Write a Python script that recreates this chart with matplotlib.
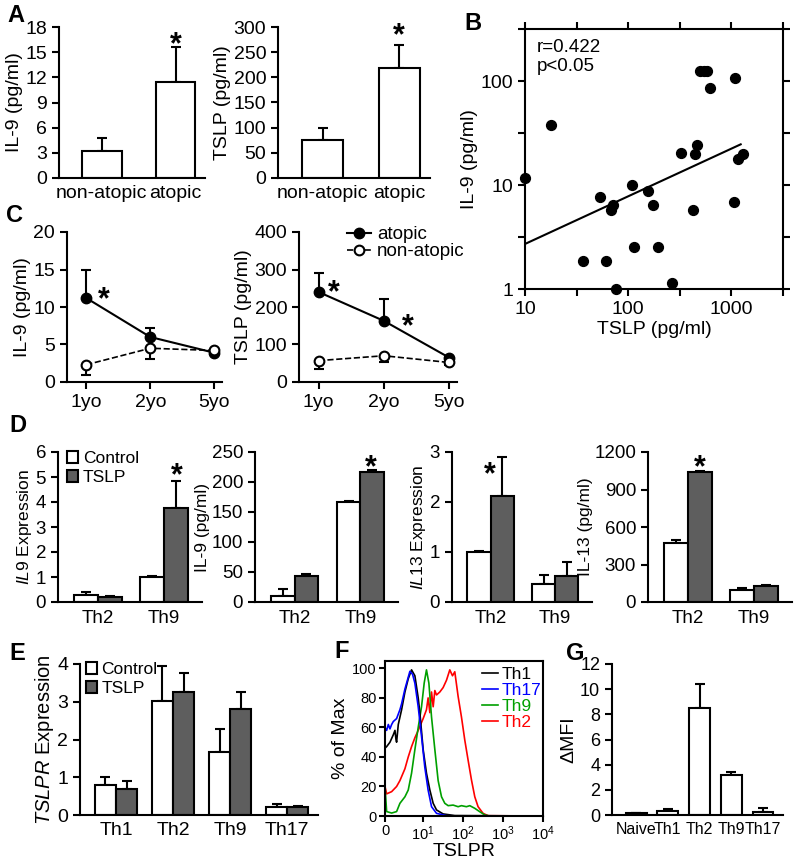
"""Figure: IL-9 / TSLP panels A-G recreated."""
import numpy as np
import matplotlib; matplotlib.use("Agg")
import matplotlib.pyplot as plt
import matplotlib.transforms as mtrans
from matplotlib.lines import Line2D
from matplotlib.patches import Patch

plt.rcParams["font.family"] = ["Liberation Sans", "DejaVu Sans"]
plt.rcParams["mathtext.fontset"] = "custom"
plt.rcParams["mathtext.rm"] = "Liberation Sans"
plt.rcParams["mathtext.it"] = "Liberation Sans:italic"
plt.rcParams["axes.linewidth"] = 1.5
plt.rcParams["xtick.major.width"] = 1.5
plt.rcParams["ytick.major.width"] = 1.5
plt.rcParams["xtick.major.size"] = 5
plt.rcParams["ytick.major.size"] = 5

# ---- data ----
# A
a_groups = ["non-atopic", "atopic"]
a_il9 = [3.2, 11.5]; a_il9_err = [1.6, 4.1]
a_tslp = [75, 218]; a_tslp_err = [25, 47]
# B
b_tslp = [10, 17.9, 36.4, 52.8, 61.2, 67.9, 71, 77, 109, 114, 154, 174, 194, 267,
          328, 429, 448, 465, 500, 540, 580, 627, 1062, 1085, 1169, 1297]
b_il9 = [11.7, 38, 1.85, 7.6, 1.85, 5.7, 6.4, 1.0, 10, 2.53, 8.8, 6.4, 2.53, 1.15,
         20.5, 5.7, 19.7, 24, 125, 125, 125, 86, 6.9, 108, 17.8, 19.7]
b_fit_x = [10, 1230]; b_fit_y = [2.71, 24.6]
# C
ages = ["1yo", "2yo", "5yo"]
c_il9_atopic = [11.2, 6.0, 3.9]; c_il9_atopic_err = [3.8, 1.2, 0.2]
c_il9_non = [2.3, 4.5, 4.2]; c_il9_non_err = [1.4, 1.4, 0.2]
c_tslp_atopic = [240, 163, 65]; c_tslp_atopic_err = [50, 59, 5]
c_tslp_non = [57, 70, 52]; c_tslp_non_err = [22, 18, 8]
# D
d_groups = ["Th2", "Th9"]
d_il9e_ctrl = [0.3, 1.0]; d_il9e_ctrl_err = [0.12, 0.04]
d_il9e_tslp = [0.2, 3.75]; d_il9e_tslp_err = [0.05, 1.1]
d_il9_ctrl = [10, 166]; d_il9_ctrl_err = [12, 2]
d_il9_tslp = [44, 217]; d_il9_tslp_err = [3, 3]
d_il13e_ctrl = [1.0, 0.36]; d_il13e_ctrl_err = [0.02, 0.19]
d_il13e_tslp = [2.12, 0.52]; d_il13e_tslp_err = [0.78, 0.28]
d_il13_ctrl = [470, 100]; d_il13_ctrl_err = [30, 15]
d_il13_tslp = [1040, 125]; d_il13_tslp_err = [10, 10]
# E
e_groups = ["Th1", "Th2", "Th9", "Th17"]
e_ctrl = [0.8, 3.02, 1.67, 0.2]; e_ctrl_err = [0.2, 0.93, 0.61, 0.08]
e_tslp = [0.7, 3.27, 2.82, 0.21]; e_tslp_err = [0.2, 0.48, 0.43, 0.02]
# F (histograms, % of max vs TSLPR)
f_th1_x = [0, 0.43, 1.30, 2.17, 2.61, 2.87, 3.04, 3.48, 4.35, 5.22, 6.09, 6.96, 7.83,
           8.70, 9.13, 10.0, 12.1, 14.7, 17.8, 21.6, 31.6, 61.9, 10000]
f_th1_y = [46, 47, 50, 55, 58, 52, 50, 62, 72, 84, 93, 99, 95, 80, 70, 45, 29, 17.6,
           8.6, 4.1, 1.4, 0.3, 0]
f_th17_x = [0, 0, 0.43, 0.87, 1.30, 1.74, 2.17, 3.04, 3.91, 4.35, 5.22, 6.09, 6.52, 7.22,
            7.83, 8.70, 9.57, 11.0, 13.3, 16.2, 21.6, 38.4, 100, 10000]
f_th17_y = [100, 60, 58, 62, 59, 62, 64, 66, 72, 76, 86, 94, 98, 96, 90, 74, 54, 33,
            17.6, 6.3, 1.8, 0.2, 0, 0]
f_th9_x = [0, 0.43, 1.74, 3.04, 3.91, 5.22, 6.09, 6.96, 7.83, 8.70, 9.57, 10.6, 12.1,
           13.9, 16.2, 19.6, 23.7, 28.8, 34.8, 42.2, 56.2, 75.0, 91.0, 121, 147, 196,
           261, 348, 464, 10000]
f_th9_y = [20, 3, 2, 3, 8.6, 13, 17.6, 29, 45, 60, 74, 90, 99, 90, 67, 45, 24, 13, 8.6,
           7, 7.4, 6.3, 7, 6.3, 7, 5.2, 2.9, 0.7, 0, 0]
f_th2_x = [0, 0.43, 1.74, 3.04, 3.91, 5.22, 6.09, 6.96, 7.83, 8.70, 10.0, 12.1, 13.3,
           14.7, 16.2, 17.8, 19.6, 21.6, 26.1, 31.6, 38.4, 46.4, 54.2, 61.9, 75.0, 91.0,
           110, 133, 162, 196, 237, 316, 422, 10000]
f_th2_y = [20, 15, 16.5, 20, 24, 32, 40, 47, 53, 58, 66, 72, 80, 70, 84, 74, 85, 82, 84,
           87, 92, 99, 95, 97.7, 81, 67, 51.5, 38, 24.4, 13, 6.3, 1.8, 0.2, 0]
# G
g_groups = ["Naive", "Th1", "Th2", "Th9", "Th17"]
g_mfi = [0.15, 0.35, 8.5, 3.15, 0.25]; g_mfi_err = [0.0, 0.1, 1.9, 0.3, 0.3]

GREY = "#5e5e5e"
W, H = 800, 860
fig = plt.figure(figsize=(W / 100, H / 100), dpi=100)


def add_ax(l, t, r, b):
    return fig.add_axes([l / W, 1 - b / H, (r - l) / W, (b - t) / H])


def fxy(x, y):
    return (x / W, 1 - y / H)


def clean(ax, fs=14):
    for s in ("top", "right"):
        ax.spines[s].set_visible(False)
    ax.tick_params(labelsize=fs, direction="out")


def bars(ax, x, vals, errs, width, color="white"):
    ax.errorbar(x, vals, yerr=[np.zeros(len(errs)), errs], fmt="none", ecolor="k",
                elinewidth=1.5, capsize=3.5, capthick=1.5, zorder=1)
    ax.bar(x, vals, width, color=color, edgecolor="k", linewidth=1.5, zorder=2)


def star(ax, x, y, fs=22):
    # (x, y) is where the glyph should appear; the '*' glyph sits high in its box
    tr = mtrans.offset_copy(ax.transData, fig=fig, x=0, y=-8, units="dots")
    ax.text(x, y, "*", ha="center", va="center", fontsize=fs, fontweight="bold",
            transform=tr, clip_on=False)


def letter(x, y, s):
    fig.text(*fxy(x, y), s, fontsize=17, fontweight="bold", ha="left", va="center")


def box_legend(ax, x, y, fs=12.5):
    ax.legend(handles=[Patch(fc="white", ec="k", lw=1.5), Patch(fc=GREY, ec="k", lw=1.5)],
              labels=["Control", "TSLP"], loc="upper left", frameon=False, fontsize=fs,
              bbox_to_anchor=fxy(x, y), bbox_transform=fig.transFigure, borderpad=0,
              borderaxespad=0, handlelength=0.65, handleheight=0.65, handletextpad=0.25,
              labelspacing=0.25)


# ---- A ----
for (l, r), vals, errs, ylab, ymax, step, sy in [
        ((59, 205), a_il9, a_il9_err, "IL-9 (pg/ml)", 18, 3, 16.8),
        ((278, 430), a_tslp, a_tslp_err, "TSLP (pg/ml)", 300, 50, 298)]:
    ax = add_ax(l, 27, r, 178)
    clean(ax)
    x = np.arange(len(a_groups))
    bars(ax, x, vals, errs, 0.54)
    ax.set_xlim(-0.58, 1.4); ax.set_ylim(0, ymax)
    ax.set_yticks(np.arange(0, ymax + 1, step))
    ax.set_xticks(x); ax.set_xticklabels(a_groups)
    ax.tick_params(axis="x", length=0, pad=5)
    ax.set_ylabel(ylab, fontsize=14, labelpad=2)
    star(ax, 1, sy)

# ---- B ----
ax = add_ax(525, 29, 783, 289)
ax.set_xscale("log"); ax.set_yscale("log")
ax.scatter(b_tslp, b_il9, s=50, color="k", zorder=3, clip_on=False)
ax.plot(b_fit_x, b_fit_y, color="k", lw=1.5)
ax.set_xlim(10, 10 ** 3.5); ax.set_ylim(1, 10 ** 2.5)
ax.set_xticks([10, 10 ** 1.5, 100, 10 ** 2.5, 1000, 10 ** 3.5])
ax.set_xticklabels(["10", "", "100", "", "1000", ""])
ax.set_yticks([1, 10 ** 0.5, 10, 10 ** 1.5, 100, 10 ** 2.5])
ax.set_yticklabels(["1", "", "10", "", "100", ""])
ax.minorticks_off()
ax.tick_params(which="both", direction="out", top=True, right=True, labelsize=14)
ax.set_xlabel("TSLP (pg/ml)", fontsize=14, labelpad=2)
ax.set_ylabel("IL-9 (pg/ml)", fontsize=14, labelpad=2)
ax.text(0.045, 0.96, "r=0.422\np<0.05", transform=ax.transAxes, fontsize=13.5,
        va="top", ha="left", linespacing=1.15)

# ---- C ----
for (l, r), at, ate, no, noe, ylab, ymax, step, stars in [
        ((67, 222), c_il9_atopic, c_il9_atopic_err, c_il9_non, c_il9_non_err,
         "IL-9 (pg/ml)", 20, 5, [(0.27, 11.9)]),
        ((299, 457), c_tslp_atopic, c_tslp_atopic_err, c_tslp_non, c_tslp_non_err,
         "TSLP (pg/ml)", 400, 100, [(0.23, 259), (1.37, 168)])]:
    ax = add_ax(l, 232, r, 382)
    clean(ax)
    x = np.arange(len(ages))
    ax.errorbar(x, at, yerr=[np.zeros(3), ate], fmt="none", ecolor="k", elinewidth=1.5,
                capsize=3.5, capthick=1.5, zorder=1)
    ax.errorbar(x, no, yerr=[noe, np.zeros(3)], fmt="none", ecolor="k", elinewidth=1.5,
                capsize=3.5, capthick=1.5, zorder=1)
    ax.plot(x, at, "-o", color="k", lw=1.5, ms=7.5, zorder=3, clip_on=False)
    ax.plot(x, no, "--o", color="k", lw=1.2, ms=7, mfc="white", mew=1.5, zorder=3,
            clip_on=False)
    ax.set_xlim(-0.3, 2.12); ax.set_ylim(0, ymax)
    ax.set_yticks(np.arange(0, ymax + 1, step))
    ax.set_xticks(x); ax.set_xticklabels(ages)
    ax.set_ylabel(ylab, fontsize=14, labelpad=2)
    for sx, sy in stars:
        star(ax, sx, sy)
ax.legend(handles=[Line2D([], [], color="k", marker="o", ms=7.5, lw=1.5),
                   Line2D([], [], color="k", marker="o", ms=7, mfc="white", mew=1.5,
                          ls="--", lw=1.2)],
          labels=["atopic", "non-atopic"], loc="upper left", frameon=False,
          fontsize=13.5, bbox_to_anchor=fxy(347, 226), bbox_transform=fig.transFigure,
          borderpad=0, borderaxespad=0, handlelength=1.3, handletextpad=0.3,
          labelspacing=0.0)

# ---- D ----
d_panels = [
    ((58, 202), d_il9e_ctrl, d_il9e_ctrl_err, d_il9e_tslp, d_il9e_tslp_err,
     r"$\mathit{IL9}$ Expression", 6, 1, (1.19, 5.36)),
    ((255, 398), d_il9_ctrl, d_il9_ctrl_err, d_il9_tslp, d_il9_tslp_err,
     "IL-9 (pg/ml)", 250, 50, (1.16, 237)),
    ((452, 592), d_il13e_ctrl, d_il13e_ctrl_err, d_il13e_tslp, d_il13e_tslp_err,
     r"$\mathit{IL13}$ Expression", 3, 1, (-0.01, 2.7)),
    ((648, 792), d_il13_ctrl, d_il13_ctrl_err, d_il13_tslp, d_il13_tslp_err,
     "IL-13 (pg/ml)", 1200, 300, (0.18, 1136)),
]
for i, ((l, r), c, ce, t, te, ylab, ymax, step, (sx, sy)) in enumerate(d_panels):
    ax = add_ax(l, 452, r, 602)
    clean(ax, 13.5)
    x = np.arange(len(d_groups))
    bars(ax, x - 0.18, c, ce, 0.36)
    bars(ax, x + 0.18, t, te, 0.36, GREY)
    ax.set_xlim(-0.6, 1.57); ax.set_ylim(0, ymax)
    ax.set_yticks(np.arange(0, ymax + 1, step))
    ax.set_xticks(x); ax.set_xticklabels(d_groups)
    ax.tick_params(axis="x", length=0, pad=6)
    ax.set_ylabel(ylab, fontsize=12.5, labelpad=1)
    star(ax, sx, sy)
    if i == 0:
        box_legend(ax, 67, 451)

# ---- E ----
ax = add_ax(80, 664, 318, 815)
clean(ax)
x = np.arange(len(e_groups))
bars(ax, x - 0.185, e_ctrl, e_ctrl_err, 0.37)
bars(ax, x + 0.185, e_tslp, e_tslp_err, 0.37, GREY)
ax.set_xlim(-0.63, 3.54); ax.set_ylim(0, 4)
ax.set_yticks(range(5))
ax.set_xticks(x); ax.set_xticklabels(e_groups)
ax.tick_params(axis="x", length=0, pad=5)
ax.set_ylabel(r"$\mathit{TSLPR}$ Expression", fontsize=14.5, labelpad=1)
box_legend(ax, 86, 662)

# ---- F ----
ax = add_ax(385, 661, 543, 816)
ax.set_xscale("symlog", linthresh=10, linscale=0.86)
for xs, ys, col, lab in [(f_th2_x, f_th2_y, "#ff0000", "Th2"), (f_th9_x, f_th9_y, "#00a000", "Th9"),
                         (f_th1_x, f_th1_y, "k", "Th1"), (f_th17_x, f_th17_y, "#0000ff", "Th17")]:
    ax.plot(xs, ys, color=col, lw=1.2, label=lab)
ax.set_xlim(0, 10000); ax.set_ylim(0, 105)
ax.set_xticks([0, 10, 100, 1000, 10000])
ax.set_xticklabels(["0", "$10^1$", "$10^2$", "$10^3$", "$10^4$"])
ax.xaxis.set_minor_locator(plt.NullLocator())
ax.set_yticks(range(0, 101, 20))
ax.tick_params(direction="out", labelsize=10.5, length=4, pad=2)
ax.set_xlabel("TSLPR", fontsize=14, labelpad=0)
ax.set_ylabel("% of Max", fontsize=14, labelpad=2)
hs, ls = ax.get_legend_handles_labels()
order = [2, 3, 1, 0]
ax.legend([hs[i] for i in order], [ls[i] for i in order], loc="upper left", frameon=False,
          fontsize=12.5, bbox_to_anchor=fxy(482, 667), bbox_transform=fig.transFigure,
          borderpad=0, borderaxespad=0, handlelength=0.9, handletextpad=0.25,
          labelspacing=0.05, labelcolor="linecolor")

# ---- G ----
ax = add_ax(612, 664, 783, 815)
clean(ax, 13)
x = np.arange(len(g_groups))
bars(ax, x, g_mfi, g_mfi_err, 0.66)
ax.set_xlim(-0.76, 4.63); ax.set_ylim(0, 12)
ax.set_yticks(range(0, 13, 2))
ax.set_xticks(x); ax.set_xticklabels(g_groups)
ax.tick_params(axis="x", length=0, pad=5, labelsize=11.5)
ax.set_ylabel("ΔMFI", fontsize=14, labelpad=2)

# panel letters
letter(7, 15, "A"); letter(464, 23, "B"); letter(6, 215, "C"); letter(9, 425, "D")
letter(9, 653, "E"); letter(334, 651, "F"); letter(566, 653, "G")

fig.savefig("out.png", dpi=100)
print("saved out.png")
